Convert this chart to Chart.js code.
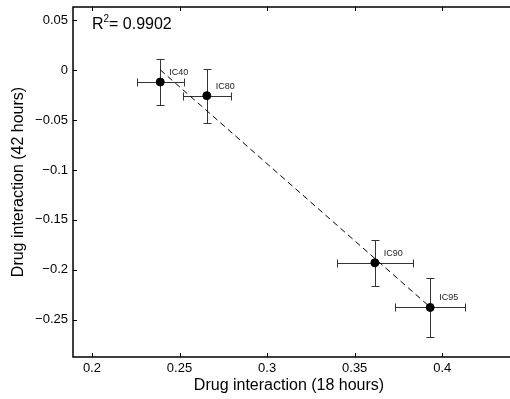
<!DOCTYPE html>
<html>
<head>
<meta charset="utf-8">
<script src="https://cdn.jsdelivr.net/npm/chart.js@4.4.1/dist/chart.umd.min.js"></script>
<style>
    html, body { margin: 0; padding: 0; background: #fff; overflow: hidden; }
    #wrap { width: 510px; height: 399px; }
</style>
</head>
<body>
<div id="wrap"><canvas id="chart"></canvas></div>
<script>
// Data
const labels = ['IC40', 'IC80', 'IC90', 'IC95'];
const xValues = [0.239, 0.2656, 0.3615, 0.3931];
const yValues = [-0.0117, -0.0254, -0.193, -0.2378];
const xErrors = [0.0134, 0.0138, 0.0218, 0.0201];
const yErrors = [0.023, 0.0272, 0.0232, 0.0297];
const fitX = [0.239, 0.3931];
const fitY = [0.0005, -0.2375];
const rSquared = '0.9902';

const xTicks = [0.2, 0.25, 0.3, 0.35, 0.4];
const yTicks = [0.05, 0, -0.05, -0.1, -0.15, -0.2, -0.25];

const fmt = v => {
    const s = String(Math.round(v * 1000) / 1000);
    return s.replace('-', '\u2212');
};

const font = 'Liberation Sans, Arial, Helvetica, sans-serif';

// drop the automatic room Chart.js keeps for edge tick labels
const noPadding = s => {
    s.paddingLeft = 0; s.paddingRight = 0;
    s.paddingTop = 0; s.paddingBottom = 0;
};

// error bars, point labels, frame, inward ticks, R^2 text
const decorations = {
    id: 'decorations',
    beforeDatasetsDraw(chart) {
        const { ctx, scales: { x, y } } = chart;
        ctx.save();
        ctx.strokeStyle = '#333';
        ctx.lineWidth = 1;
        const cap = 4;
        labels.forEach((lab, i) => {
            const px = Math.round(x.getPixelForValue(xValues[i])) + 0.5;
            const py = Math.round(y.getPixelForValue(yValues[i])) + 0.5;
            const x0 = Math.round(x.getPixelForValue(xValues[i] - xErrors[i])) + 0.5;
            const x1 = Math.round(x.getPixelForValue(xValues[i] + xErrors[i])) + 0.5;
            const y0 = Math.round(y.getPixelForValue(yValues[i] + yErrors[i])) + 0.5;
            const y1 = Math.round(y.getPixelForValue(yValues[i] - yErrors[i])) + 0.5;
            ctx.beginPath();
            ctx.moveTo(x0, py); ctx.lineTo(x1, py);
            ctx.moveTo(x0, py - cap); ctx.lineTo(x0, py + cap);
            ctx.moveTo(x1, py - cap); ctx.lineTo(x1, py + cap);
            ctx.moveTo(px, y0); ctx.lineTo(px, y1);
            ctx.moveTo(px - cap, y0); ctx.lineTo(px + cap, y0);
            ctx.moveTo(px - cap, y1); ctx.lineTo(px + cap, y1);
            ctx.stroke();
        });
        ctx.restore();
    },
    afterDraw(chart) {
        const { ctx, chartArea: a, scales: { x, y } } = chart;
        ctx.save();
        // frame: left, top, bottom (right edge is outside the picture)
        ctx.strokeStyle = '#000';
        ctx.lineWidth = 1.5;
        ctx.beginPath();
        ctx.moveTo(chart.width, a.top); ctx.lineTo(a.left, a.top);
        ctx.lineTo(a.left, a.bottom); ctx.lineTo(chart.width, a.bottom);
        ctx.stroke();
        ctx.lineWidth = 1;
        ctx.beginPath();
        xTicks.forEach(v => {
            const px = Math.round(x.getPixelForValue(v)) + 0.5;
            ctx.moveTo(px, a.bottom); ctx.lineTo(px, a.bottom - 4);
            ctx.moveTo(px, a.top); ctx.lineTo(px, a.top + 4);
        });
        yTicks.forEach(v => {
            const py = Math.round(y.getPixelForValue(v)) + 0.5;
            ctx.moveTo(a.left, py); ctx.lineTo(a.left + 4, py);
        });
        ctx.stroke();

        // point labels
        ctx.fillStyle = '#222';
        ctx.font = '9px ' + font;
        ctx.textBaseline = 'alphabetic';
        labels.forEach((lab, i) => {
            const px = x.getPixelForValue(xValues[i]);
            const py = y.getPixelForValue(yValues[i]);
            ctx.fillText(lab, px + 9, py - 7);
        });

        // R^2 text
        ctx.fillStyle = '#000';
        ctx.font = '16px ' + font;
        let tx = x.getPixelForValue(0.2);
        const ty = 29;
        ctx.fillText('R', tx, ty);
        tx += ctx.measureText('R').width;
        ctx.font = '10px ' + font;
        ctx.fillText('2', tx, ty - 7);
        tx += ctx.measureText('2').width;
        ctx.font = '16px ' + font;
        ctx.fillText('= ' + rSquared, tx, ty);
        ctx.restore();
    }
};

const points = labels.map((l, i) => ({ x: xValues[i], y: yValues[i] }));
const fitLine = fitX.map((v, i) => ({ x: v, y: fitY[i] }));

new Chart(document.getElementById('chart'), {
    type: 'scatter',
    data: {
        datasets: [
            {
                label: 'fit',
                data: fitLine,
                showLine: true,
                borderColor: '#000',
                borderWidth: 1,
                borderDash: [6, 4],
                pointRadius: 0,
                fill: false
            },
            {
                label: 'drug interaction',
                data: points,
                backgroundColor: '#000',
                borderColor: '#000',
                pointRadius: 4,
                pointHoverRadius: 4
            }
        ]
    },
    plugins: [decorations],
    options: {
        responsive: true,
        maintainAspectRatio: false,
        animation: false,
        layout: { padding: { top: 7, right: 0, left: 0, bottom: 0 } },
        plugins: {
            legend: { display: false },
            tooltip: { enabled: false }
        },
        scales: {
            x: {
                type: 'linear',
                min: 0.1892,
                max: 0.4358,
                afterBuildTicks: s => { s.ticks = xTicks.map(v => ({ value: v })); },
                afterFit: s => { s.height = 42; noPadding(s); },
                grid: { display: false, drawTicks: false },
                border: { display: false },
                ticks: {
                    padding: 4,
                    color: '#000',
                    maxRotation: 0,
                    font: { family: font, size: 13 },
                    callback: v => fmt(v)
                },
                title: {
                    display: true,
                    text: 'Drug interaction (18 hours)',
                    color: '#000',
                    font: { family: font, size: 16 },
                    padding: { top: 0, bottom: 4 }
                }
            },
            y: {
                type: 'linear',
                min: -0.2875,
                max: 0.0635,
                afterBuildTicks: s => { s.ticks = yTicks.map(v => ({ value: v })); },
                afterFit: s => { s.width = 73; noPadding(s); },
                grid: { display: false, drawTicks: false },
                border: { display: false },
                ticks: {
                    padding: 5,
                    color: '#000',
                    font: { family: font, size: 13 },
                    callback: v => fmt(v)
                },
                title: {
                    display: true,
                    text: 'Drug interaction (42 hours)',
                    color: '#000',
                    font: { family: font, size: 16 },
                    padding: { top: 9, bottom: 0 }
                }
            }
        }
    }
});
</script>
</body>
</html>
